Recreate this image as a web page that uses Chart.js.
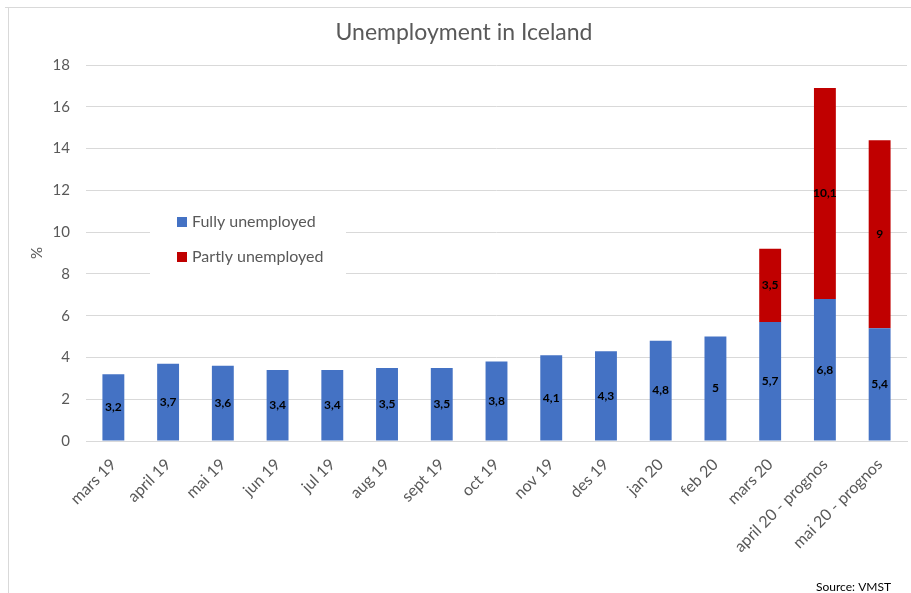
<!DOCTYPE html>
<html>
<head>
<meta charset="utf-8">
<script src="https://cdn.jsdelivr.net/npm/chart.js@4/dist/chart.umd.min.js"></script>
<style>
html,body{margin:0;padding:0;background:#fff;}
#wrap{width:911px;height:593px;position:relative;}
</style>
</head>
<body>
<div id="wrap"><canvas id="c" width="911" height="593"></canvas></div>
<script>
const categories = ["mars 19","april 19","mai 19","jun 19","jul 19","aug 19","sept 19","oct 19","nov 19","des 19","jan 20","feb 20","mars 20","april 20 - prognos","mai 20 - prognos"];
const fullyUnemployed = [3.2,3.7,3.6,3.4,3.4,3.5,3.5,3.8,4.1,4.3,4.8,5,5.7,6.8,5.4];
const partlyUnemployed = [null,null,null,null,null,null,null,null,null,null,null,null,3.5,10.1,9];
const yTicks = [0,2,4,6,8,10,12,14,16,18];
const seriesNames = ["Fully unemployed","Partly unemployed"];
const chartTitle = "Unemployment in Iceland";
const sourceText = "Source: VMST";

const FONT = "Lato, 'Open Sans', sans-serif";
const BLUE = "#4472C4", RED = "#C00000", GREY = "#595959", GRID = "#d9d9d9";

const decorPlugin = {
  id: 'decor',
  beforeDraw(chart) {
    const ctx = chart.ctx;
    ctx.save();
    ctx.fillStyle = '#fff';
    ctx.fillRect(0, 0, chart.width, chart.height);
    ctx.strokeStyle = GRID;
    ctx.lineWidth = 1;
    ctx.beginPath();
    ctx.moveTo(5, 7.5); ctx.lineTo(chart.width, 7.5);
    ctx.moveTo(8.5, 7); ctx.lineTo(8.5, chart.height);
    ctx.stroke();
    ctx.fillStyle = GREY;
    ctx.font = "23px " + FONT;
    ctx.textAlign = 'center';
    ctx.textBaseline = 'middle';
    ctx.fillText(chartTitle, 464, 33);
    ctx.fillStyle = '#000';
    ctx.font = "12px " + FONT;
    ctx.textAlign = 'right';
    ctx.textBaseline = 'alphabetic';
    ctx.fillText(sourceText, 891, 591);
    ctx.restore();
  },
  afterDatasetsDraw(chart) {
    const ctx = chart.ctx;
    ctx.save();
    ctx.font = "bold 12px " + FONT;
    ctx.fillStyle = '#000';
    ctx.textAlign = 'center';
    ctx.textBaseline = 'middle';
    chart.data.datasets.forEach((ds, di) => {
      const meta = chart.getDatasetMeta(di);
      meta.data.forEach((bar, i) => {
        const v = ds.data[i];
        if (v === null || v === undefined) return;
        const cy = (bar.y + bar.base) / 2;
        ctx.fillText(String(v).replace('.', ','), bar.x, cy);
      });
    });
    // legend box
    ctx.fillStyle = '#fff';
    ctx.fillRect(150, 201, 196, 76);
    const colors = [BLUE, RED];
    const ys = [222, 257];
    ctx.font = "16px " + FONT;
    ctx.textAlign = 'left';
    seriesNames.forEach((n, k) => {
      ctx.fillStyle = colors[k];
      ctx.fillRect(177, ys[k] - 5, 10, 10);
      ctx.fillStyle = GREY;
      ctx.fillText(n, 192, ys[k]);
    });
    ctx.restore();
  }
};

new Chart(document.getElementById('c'), {
  type: 'bar',
  data: {
    labels: categories,
    datasets: [
      { label: seriesNames[0], data: fullyUnemployed, backgroundColor: BLUE },
      { label: seriesNames[1], data: partlyUnemployed, backgroundColor: RED }
    ]
  },
  options: {
    responsive: false,
    animation: false,
    layout: { padding: { left: 10, top: 65, right: 4, bottom: 0 } },
    plugins: { legend: { display: false }, title: { display: false }, tooltip: { enabled: false } },
    datasets: { bar: { barPercentage: 0.4, categoryPercentage: 1 } },
    scales: {
      x: {
        stacked: true,
        afterFit(s) { s.height = 152; },
        grid: { display: false },
        border: { display: true, color: GRID },
        ticks: { color: GREY, font: { family: FONT, size: 16 }, minRotation: 45, maxRotation: 45, autoSkip: false, padding: 6 }
      },
      y: {
        stacked: true,
        min: 0, max: 18,
        afterFit(s) { s.width = 76; },
        afterBuildTicks(s) { s.ticks = yTicks.map(v => ({ value: v })); },
        grid: { color: GRID, drawTicks: false },
        border: { display: false },
        title: { display: true, text: '%', color: GREY, font: { family: FONT, size: 15 }, padding: { top: 18, bottom: 0 } },
        ticks: { color: GREY, font: { family: FONT, size: 15 }, padding: 16 }
      }
    }
  },
  plugins: [decorPlugin]
});
</script>
</body>
</html>
